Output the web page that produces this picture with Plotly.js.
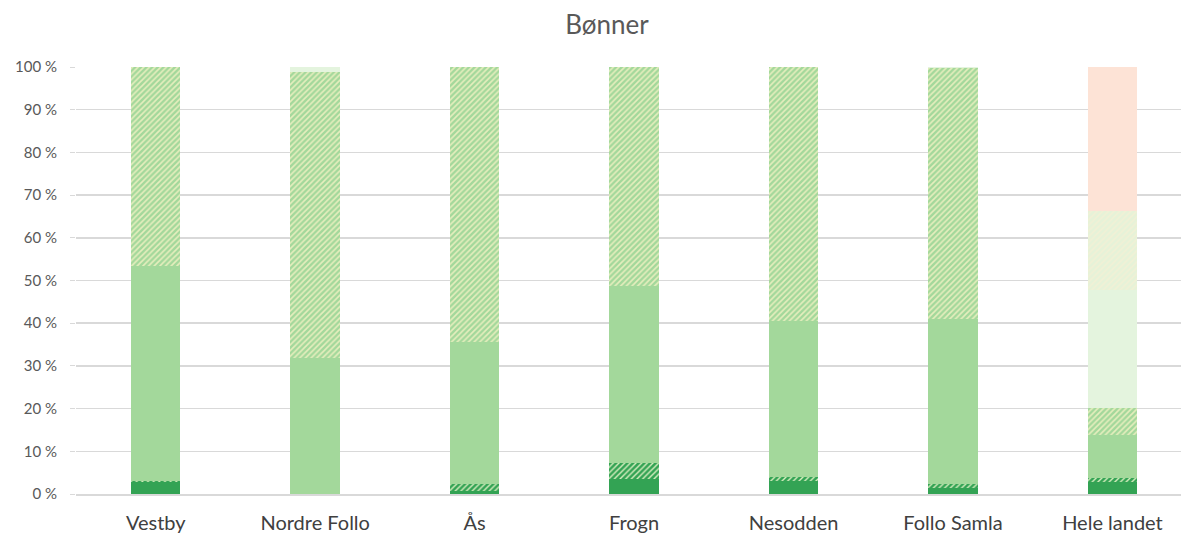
<!DOCTYPE html>
<html>
<head>
<meta charset="utf-8">
<script src="https://cdn.plot.ly/plotly-3.0.1.min.js"></script>
<style>html,body{margin:0;padding:0;background:#fff;overflow:hidden;}#chart{width:1181px;height:533px;}</style>
</head>
<body>
<div id="chart"></div>
<script>
const categories = ["Vestby", "Nordre Follo", "Ås", "Frogn", "Nesodden", "Follo Samla", "Hele landet"];
const serie1 = [2.8, 0.0, 0.8, 3.4, 3.1, 1.3, 2.9];
const serie2 = [0.3, 0.0, 1.5, 3.8, 0.9, 1.0, 0.8];
const serie3 = [50.4, 31.9, 33.3, 41.5, 36.5, 38.7, 10.1];
const serie4 = [46.5, 66.9, 64.4, 51.3, 59.5, 58.7, 6.4];
const serie5 = [0.0, 1.2, 0.0, 0.0, 0.0, 0.3, 27.6];
const serie6 = [0.0, 0.0, 0.0, 0.0, 0.0, 0.0, 18.5];
const serie7 = [0.0, 0.0, 0.0, 0.0, 0.0, 0.0, 33.7];
const yTickVals = [0, 10, 20, 30, 40, 50, 60, 70, 80, 90, 100];
const yTickText = ["0 %", "10 %", "20 %", "30 %", "40 %", "50 %", "60 %", "70 %", "80 %", "90 %", "100 %"];

function bar(name, y, color, pattern) {
  const t = {type: "bar", name: name, x: categories, y: y,
    marker: {color: color, line: {width: 0}}, hoverinfo: "x+y"};
  if (pattern) t.marker.pattern = pattern;
  return t;
}
const traces = [
  bar("Serie 1", serie1, "#33a354"),
  bar("Serie 2", serie2, "#33a354", {shape: "/", fgcolor: "#d9eec0", bgcolor: "#33a354", size: 4, solidity: 0.35}),
  bar("Serie 3", serie3, "#a3d89b"),
  bar("Serie 4", serie4, "#a3d89b", {shape: "/", fgcolor: "#e6eebd", bgcolor: "#a3d89b", size: 4, solidity: 0.4}),
  bar("Serie 5", serie5, "#e4f4de"),
  bar("Serie 6", serie6, "#e6f2d8", {shape: "/", fgcolor: "#f1f1d6", bgcolor: "#e6f2d8", size: 4, solidity: 0.4}),
  bar("Serie 7", serie7, "#fde3d6")
];
const layout = {
  width: 1181, height: 533,
  barmode: "stack", bargap: 0.69,
  showlegend: false,
  paper_bgcolor: "#fff", plot_bgcolor: "#fff",
  margin: {l: 76, r: 0, t: 67, b: 39},
  font: {family: "Lato, 'Open Sans', sans-serif", color: "#595959"},
  title: {text: "Bønner", font: {size: 26, color: "#595959", family: "Lato, 'Open Sans', sans-serif"}, x: 0.514, xanchor: "center", xref: "container", y: 0.953, yanchor: "middle"},
  xaxis: {type: "category", range: [-0.5, 6.43], tickfont: {size: 20, color: "#404040"}, showline: true, linecolor: "#d9d9d9", linewidth: 1.5,
    ticks: "", ticklabelstandoff: 10, fixedrange: true},
  yaxis: {range: [0, 100], tickvals: yTickVals, ticktext: yTickText, tickfont: {size: 15, color: "#595959"},
    showgrid: true, gridcolor: "#d9d9d9", gridwidth: 1.5, zeroline: false, ticks: "outside", ticklen: 5, tickcolor: "#d9d9d9", ticklabelstandoff: 10, fixedrange: true}
};
Plotly.newPlot("chart", traces, layout, {displayModeBar: false, staticPlot: true});
</script>
</body>
</html>
